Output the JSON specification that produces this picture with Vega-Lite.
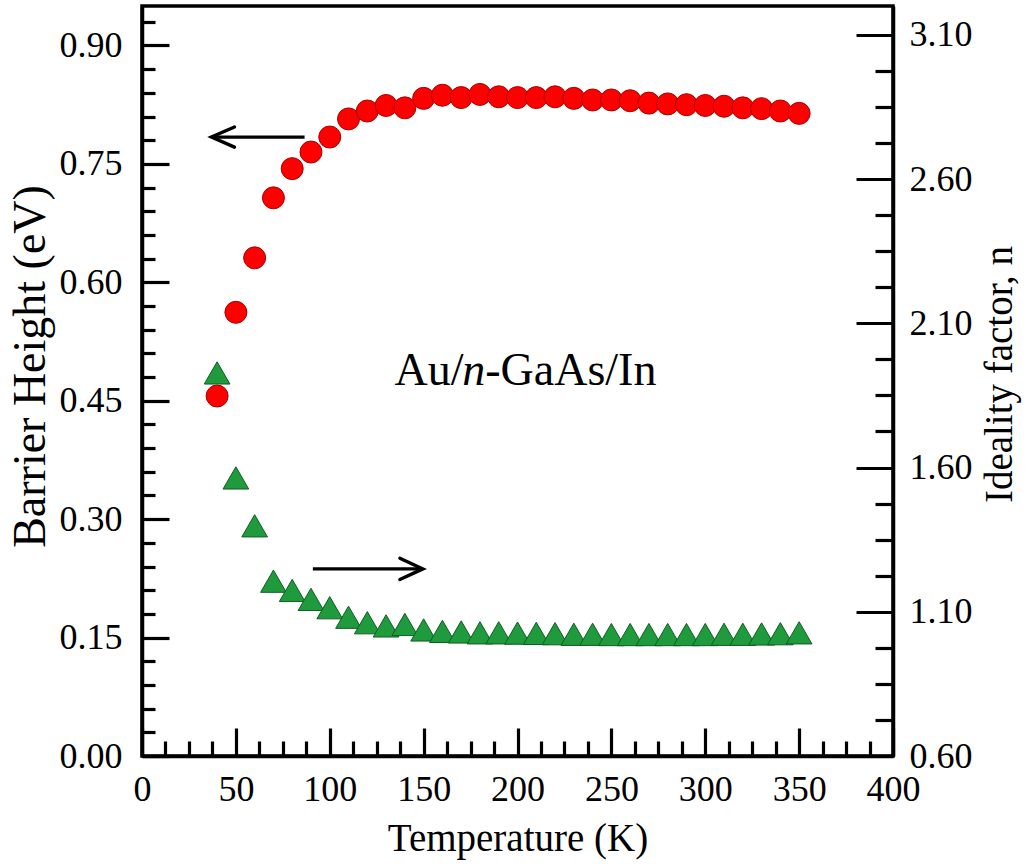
{
  "$schema": "https://vega.github.io/schema/vega-lite/v6.json",
  "width": 751,
  "height": 750,
  "autosize": "none",
  "padding": {"left": 142, "top": 6, "right": 143, "bottom": 108},
  "background": "white",
  "config": {
    "view": {"stroke": "black", "strokeWidth": 3.5},
    "font": "Liberation Serif",
    "axis": {
      "labelFont": "Liberation Serif",
      "titleFont": "Liberation Serif",
      "labelFontSize": 36,
      "titleFontSize": 39,
      "titleFontWeight": "normal",
      "labelColor": "black",
      "titleColor": "black",
      "domainColor": "black",
      "domainWidth": 3.5,
      "tickColor": "black",
      "tickWidth": 3.2,
      "grid": false,
      "labelOverlap": false,
      "labelBound": false,
      "labelFlush": false
    }
  },
  "datasets": {
    "bh": [
      {"T": 40, "BH": 0.456}, {"T": 50, "BH": 0.562}, {"T": 60, "BH": 0.631}, {"T": 70, "BH": 0.707},
      {"T": 80, "BH": 0.744}, {"T": 90, "BH": 0.765}, {"T": 100, "BH": 0.784}, {"T": 110, "BH": 0.807},
      {"T": 120, "BH": 0.817}, {"T": 130, "BH": 0.824}, {"T": 140, "BH": 0.821}, {"T": 150, "BH": 0.833},
      {"T": 160, "BH": 0.837}, {"T": 170, "BH": 0.834}, {"T": 180, "BH": 0.838}, {"T": 190, "BH": 0.835},
      {"T": 200, "BH": 0.834}, {"T": 210, "BH": 0.834}, {"T": 220, "BH": 0.835}, {"T": 230, "BH": 0.833},
      {"T": 240, "BH": 0.831}, {"T": 250, "BH": 0.831}, {"T": 260, "BH": 0.830}, {"T": 270, "BH": 0.827},
      {"T": 280, "BH": 0.826}, {"T": 290, "BH": 0.825}, {"T": 300, "BH": 0.824}, {"T": 310, "BH": 0.823},
      {"T": 320, "BH": 0.821}, {"T": 330, "BH": 0.820}, {"T": 340, "BH": 0.817}, {"T": 350, "BH": 0.814}
    ],
    "nf": [
      {"T": 40, "n": 1.928}, {"T": 50, "n": 1.564}, {"T": 60, "n": 1.398}, {"T": 70, "n": 1.206},
      {"T": 80, "n": 1.174}, {"T": 90, "n": 1.143}, {"T": 100, "n": 1.114}, {"T": 110, "n": 1.081},
      {"T": 120, "n": 1.062}, {"T": 130, "n": 1.051}, {"T": 140, "n": 1.056}, {"T": 150, "n": 1.037},
      {"T": 160, "n": 1.032}, {"T": 170, "n": 1.030}, {"T": 180, "n": 1.027}, {"T": 190, "n": 1.027},
      {"T": 200, "n": 1.026}, {"T": 210, "n": 1.025}, {"T": 220, "n": 1.024}, {"T": 230, "n": 1.022},
      {"T": 240, "n": 1.022}, {"T": 250, "n": 1.021}, {"T": 260, "n": 1.021}, {"T": 270, "n": 1.021},
      {"T": 280, "n": 1.021}, {"T": 290, "n": 1.021}, {"T": 300, "n": 1.021}, {"T": 310, "n": 1.022},
      {"T": 320, "n": 1.022}, {"T": 330, "n": 1.023}, {"T": 340, "n": 1.024}, {"T": 350, "n": 1.027}
    ],
    "arrows": [
      {"T1": 86.6, "T2": 37.0, "BH": 0.784, "dir": "left"},
      {"T1": 91.0, "T2": 149.6, "BH": 0.237, "dir": "right"}
    ],
    "label": [
      {"T": 134.5, "BH": 0.470, "t": "Au/", "part": "a"},
      {"T": 170.6, "BH": 0.470, "t": "n", "part": "b"},
      {"T": 182.8, "BH": 0.470, "t": "-GaAs/In", "part": "c"}
    ]
  },
  "layer": [
    {
      "layer": [
        {
          "data": {"name": "bh"},
          "mark": {"type": "point", "shape": "circle", "filled": true, "fill": "#ff0000", "stroke": "#a80000", "strokeWidth": 1, "size": 484, "opacity": 1},
          "encoding": {
            "x": {
              "field": "T", "type": "quantitative",
              "scale": {"domain": [0, 400], "nice": false, "zero": false},
              "title": "Temperature (K)",
              "axis": {
                "orient": "bottom",
                "values": [0, 50, 100, 150, 200, 250, 300, 350, 400],
                "format": "d",
                "tickSize": -28,
                "labelPadding": 44,
                "labelOverlap": false,
                "titlePadding": 12
              }
            },
            "y": {
              "field": "BH", "type": "quantitative",
              "scale": {"domain": [0, 0.95], "nice": false, "zero": false},
              "title": "Barrier Height (eV)",
              "axis": {
                "orient": "left",
                "values": [0, 0.15, 0.3, 0.45, 0.6, 0.75, 0.9],
                "format": ".2f",
                "tickSize": -27,
                "labelPadding": 47,
                "labelOverlap": false,
                "titleFontSize": 46,
                "titlePadding": 5,
                "titleY": 360
              }
            }
          }
        },
        {
          "data": {"name": "arrows"},
          "mark": {"type": "rule", "color": "black", "strokeWidth": 3.2},
          "encoding": {
            "x": {"field": "T1", "type": "quantitative", "title": "Temperature (K)"},
            "x2": {"field": "T2"},
            "y": {"field": "BH", "type": "quantitative", "title": "Barrier Height (eV)"}
          }
        },
        {
          "data": {"name": "arrows"},
          "mark": {"type": "point", "filled": false, "stroke": "black", "strokeWidth": 3.4, "size": 2116, "opacity": 1, "strokeCap": "round", "strokeJoin": "miter"},
          "encoding": {
            "x": {"field": "T2", "type": "quantitative", "title": "Temperature (K)"},
            "y": {"field": "BH", "type": "quantitative", "title": "Barrier Height (eV)"},
            "shape": {"field": "dir", "type": "nominal", "legend": null,
              "scale": {"domain": ["left", "right"], "range": ["M1,-0.44L0,0L1,0.44", "M-1,-0.46L0,0L-1,0.46"]}}
          }
        },
        {
          "data": {"name": "label"},
          "transform": [{"filter": "datum.part !== 'b'"}],
          "mark": {"type": "text", "align": "left", "baseline": "alphabetic", "font": "Liberation Serif", "fontSize": 46, "color": "black"},
          "encoding": {
            "x": {"field": "T", "type": "quantitative", "title": "Temperature (K)"},
            "y": {"field": "BH", "type": "quantitative", "title": "Barrier Height (eV)"},
            "text": {"field": "t"}
          }
        },
        {
          "data": {"name": "label"},
          "transform": [{"filter": "datum.part === 'b'"}],
          "mark": {"type": "text", "align": "left", "baseline": "alphabetic", "font": "Liberation Serif", "fontSize": 46, "fontStyle": "italic", "color": "black"},
          "encoding": {
            "x": {"field": "T", "type": "quantitative", "title": "Temperature (K)"},
            "y": {"field": "BH", "type": "quantitative", "title": "Barrier Height (eV)"},
            "text": {"field": "t"}
          }
        }
      ]
    },
    {
      "data": {"name": "nf"},
      "mark": {"type": "point", "shape": "triangle-up", "filled": true, "fill": "#1f9a3c", "stroke": "#0f5e22", "strokeWidth": 1, "size": 660, "opacity": 1},
      "encoding": {
        "x": {"field": "T", "type": "quantitative", "scale": {"domain": [0, 400], "nice": false, "zero": false}, "axis": null},
        "y": {
          "field": "n", "type": "quantitative",
          "scale": {"domain": [0.6, 3.2], "nice": false, "zero": false},
          "title": "Ideality factor, n",
          "axis": {
            "orient": "right",
            "values": [0.6, 1.1, 1.6, 2.1, 2.6, 3.1],
            "format": ".2f",
            "tickSize": -37,
            "labelPadding": 53,
            "labelOverlap": false,
            "titleAngle": 270,
            "titleBaseline": "top",
            "titlePadding": 8,
            "titleY": 368
          }
        }
      }
    },
    {
      "data": {"name": "bh"},
      "mark": {"type": "point", "opacity": 0},
      "encoding": {
        "x": {"field": "T", "type": "quantitative", "scale": {"domain": [0, 400], "nice": false, "zero": false}, "axis": null},
        "y": {
          "field": "BH", "type": "quantitative",
          "scale": {"domain": [0, 0.95], "nice": false, "zero": false},
          "axis": {
            "orient": "left", "title": null, "labels": false, "domain": false,
            "values": [0.03,0.06,0.09,0.12,0.18,0.21,0.24,0.27,0.33,0.36,0.39,0.42,0.48,0.51,0.54,0.57,0.63,0.66,0.69,0.72,0.78,0.81,0.84,0.87,0.93],
            "tickSize": -13
          }
        }
      }
    },
    {
      "data": {"name": "nf"},
      "mark": {"type": "point", "opacity": 0},
      "encoding": {
        "x": {"field": "T", "type": "quantitative", "scale": {"domain": [0, 400], "nice": false, "zero": false}, "axis": null},
        "y": {
          "field": "n", "type": "quantitative",
          "scale": {"domain": [0.6, 3.2], "nice": false, "zero": false},
          "axis": {
            "orient": "right", "title": null, "labels": false, "domain": false,
            "values": [0.725,0.85,0.975,1.225,1.35,1.475,1.725,1.85,1.975,2.225,2.35,2.475,2.725,2.85,2.975],
            "tickSize": -18
          }
        }
      }
    },
    {
      "data": {"name": "bh"},
      "mark": {"type": "point", "opacity": 0},
      "encoding": {
        "x": {
          "field": "T", "type": "quantitative",
          "scale": {"domain": [0, 400], "nice": false, "zero": false},
          "axis": {
            "orient": "bottom", "title": null, "labels": false, "domain": false,
            "values": [12.5,25,37.5,62.5,75,87.5,112.5,125,137.5,162.5,175,187.5,212.5,225,237.5,262.5,275,287.5,312.5,325,337.5,362.5,375,387.5],
            "tickSize": -15
          }
        },
        "y": {"field": "BH", "type": "quantitative", "scale": {"domain": [0, 0.95], "nice": false, "zero": false}, "axis": null}
      }
    }
  ],
  "resolve": {"scale": {"x": "independent", "y": "independent"}}
}
